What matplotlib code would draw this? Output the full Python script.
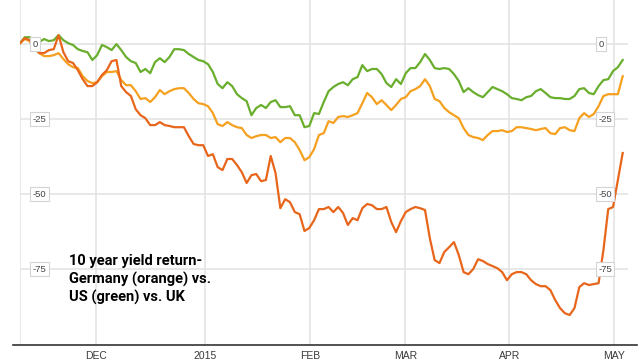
import numpy as np
import matplotlib
matplotlib.use("Agg")
import matplotlib.pyplot as plt
from matplotlib.lines import Line2D

# daily readings, Nov 2014 - early May 2015 (one value per trading day)
green_us = [0.3, 2.3, 2.3, 1.3, 0.7, 1.7, 1.0, 1.3, 3.0, 1.3, 0.3, -0.3, -1.7, -2.3, -2.7, -5.3,
            -3.7, -0.3, -1.0, -2.0, 0.0, -2.0, -4.3, -5.7, -6.3, -9.3, -8.3, -9.7, -6.0, -4.7,
            -6.0, -4.3, -1.7, -1.7, -2.0, -3.3, -4.3, -5.3, -5.7, -6.7, -9.3, -13.3, -14.7,
            -12.7, -14.0, -16.7, -18.0, -19.0, -23.7, -21.3, -20.3, -21.3, -19.3, -18.7, -21.0,
            -21.0, -20.7, -23.7, -23.7, -27.7, -27.3, -23.0, -23.3, -19.3, -15.7, -14.3, -13.3,
            -12.7, -13.7, -11.7, -11.0, -7.0, -9.0, -8.3, -8.3, -10.0, -13.0, -14.3, -11.7,
            -13.3, -9.7, -8.0, -8.0, -6.0, -3.3, -5.3, -8.0, -8.3, -8.0, -8.3, -10.0, -12.3,
            -16.0, -14.7, -16.0, -17.0, -17.7, -16.0, -14.3, -15.0, -15.7, -16.7, -18.0, -18.3,
            -18.7, -17.7, -17.3, -15.7, -15.0, -16.3, -17.7, -18.0, -18.0, -18.3, -18.3, -17.3,
            -15.0, -14.7, -16.3, -16.7, -14.0, -12.0, -11.7, -9.0, -7.7, -5.3]

orange_de = [0.3, 1.7, 1.0, -1.7, -3.0, -4.0, -4.0, -3.7, -3.0, -5.0, -6.7, -7.7, -8.0, -10.7,
             -12.3, -13.0, -12.7, -10.7, -9.3, -9.3, -9.0, -12.0, -13.7, -13.7, -15.7, -18.3,
             -18.0, -19.3, -17.7, -15.3, -16.7, -15.7, -15.0, -14.7, -14.7, -16.3, -18.3, -19.7,
             -20.0, -20.7, -23.0, -26.7, -27.3, -26.0, -27.0, -27.7, -28.0, -30.3, -31.3, -30.7,
             -30.3, -30.3, -31.3, -31.0, -32.7, -31.3, -31.3, -32.7, -35.3, -38.7, -37.7, -35.0,
             -30.3, -29.7, -25.7, -26.3, -24.3, -24.0, -24.3, -23.7, -23.0, -19.7, -16.3, -17.7,
             -20.0, -18.7, -20.3, -22.0, -20.3, -18.3, -17.7, -15.7, -15.0, -14.0, -11.7, -14.0,
             -18.3, -19.0, -21.3, -22.7, -23.7, -24.7, -28.0, -30.3, -31.0, -31.3, -32.0, -30.3,
             -29.0, -29.0, -28.7, -29.3, -29.0, -27.7, -27.7, -28.0, -28.3, -28.7, -28.3, -28.0,
             -29.7, -30.0, -28.0, -27.7, -28.7, -29.0, -24.7, -23.0, -24.3, -23.3, -20.7, -17.3,
             -16.7, -16.7, -16.7, -10.7]

uk = [0.3, 2.0, 1.3, -0.7, -3.0, -3.0, -2.0, -1.7, 3.0, -2.7, -5.7, -6.3, -8.7, -11.7, -14.0,
      -14.0, -12.7, -10.3, -8.7, -5.7, -5.3, -14.0, -16.0, -17.3, -21.7, -23.7, -24.7, -27.0,
      -27.0, -26.0, -27.0, -27.3, -27.7, -27.7, -27.7, -30.7, -33.3, -33.7, -33.7, -37.3,
      -36.7, -41.0, -42.0, -38.3, -38.3, -40.3, -42.7, -46.3, -43.7, -43.3, -45.7, -45.3,
      -37.3, -43.0, -54.7, -51.7, -52.7, -56.0, -56.7, -62.3, -61.3, -58.7, -55.0, -55.0,
      -54.3, -56.0, -54.3, -56.3, -60.3, -58.0, -58.7, -54.7, -53.3, -53.7, -55.0, -55.0,
      -54.3, -59.3, -62.7, -59.0, -56.0, -55.0, -54.3, -54.7, -55.3, -64.7, -72.0, -73.0,
      -69.3, -67.7, -66.0, -70.3, -76.0, -76.7, -75.0, -71.7, -72.3, -73.3, -74.0, -74.7,
      -76.0, -78.7, -76.7, -76.0, -76.0, -76.7, -78.7, -80.0, -80.7, -80.7, -82.0, -85.3,
      -88.0, -89.7, -90.3, -88.0, -81.0, -79.7, -80.3, -80.0, -79.7, -68.7, -55.0, -54.3,
      -45.3, -36.3]

month_labels = ["DEC", "2015", "FEB", "MAR", "APR", "MAY"]
month_pos = [15.8, 38.3, 60.2, 79.9, 101.5, 123.3]
level_ticks = [0, -25, -50, -75]

W, H = 641, 363
fig = plt.figure(figsize=(W / 100, H / 100), dpi=100)
ax = fig.add_axes([20 / W, 18 / H, 608 / W, 345 / H])

x = np.arange(len(uk))
ax.plot(x, green_us, color="#6aae2e", lw=1.6, zorder=3)
ax.plot(x, orange_de, color="#f5a01f", lw=1.6, zorder=3)
ax.plot(x, uk, color="#e8661b", lw=1.6, zorder=4)

ax.set_xlim(0, 126.1)
ax.set_ylim(-100.3, 14.7)

grid_kw = dict(color="#e4e4e4", lw=1.2, zorder=1)
for v in level_ticks:
    ax.axhline(v, **grid_kw)
for p in [0] + month_pos:
    ax.axvline(p, **grid_kw)

for s in ax.spines.values():
    s.set_visible(False)
ax.set_yticks([])
ax.set_xticks(month_pos)
ax.set_xticklabels(month_labels, fontsize=7.5, color="#3a3a3a", family="Liberation Sans")
ax.tick_params(axis="x", length=0, pad=4)

# bottom axis line runs a bit wider than the plot
fig.add_artist(Line2D([13 / W, 637 / W], [18 / H, 18 / H], color="#333333", lw=1.2))

box = dict(boxstyle="square,pad=0.25", fc="white", ec="#d4d4d4", lw=0.8)
tr = ax.get_yaxis_transform()
for v in level_ticks:
    ax.text(0.021, v, str(v), transform=tr, ha="left", va="center", fontsize=6.8,
            color="#444444", family="Liberation Sans", bbox=box, zorder=5)
    ax.text(0.951, v, str(v), transform=tr, ha="left", va="center", fontsize=6.8,
            color="#444444", family="Liberation Sans", bbox=box, zorder=5)

fig.text(69 / W, 1 - 254 / H, "10 year yield return-\nGermany (orange) vs.\nUS (green) vs. UK",
         ha="left", va="top", fontsize=10.5, fontweight="bold", family="Roboto",
         linespacing=1.3, color="black")

fig.savefig("out.png", dpi=100)
